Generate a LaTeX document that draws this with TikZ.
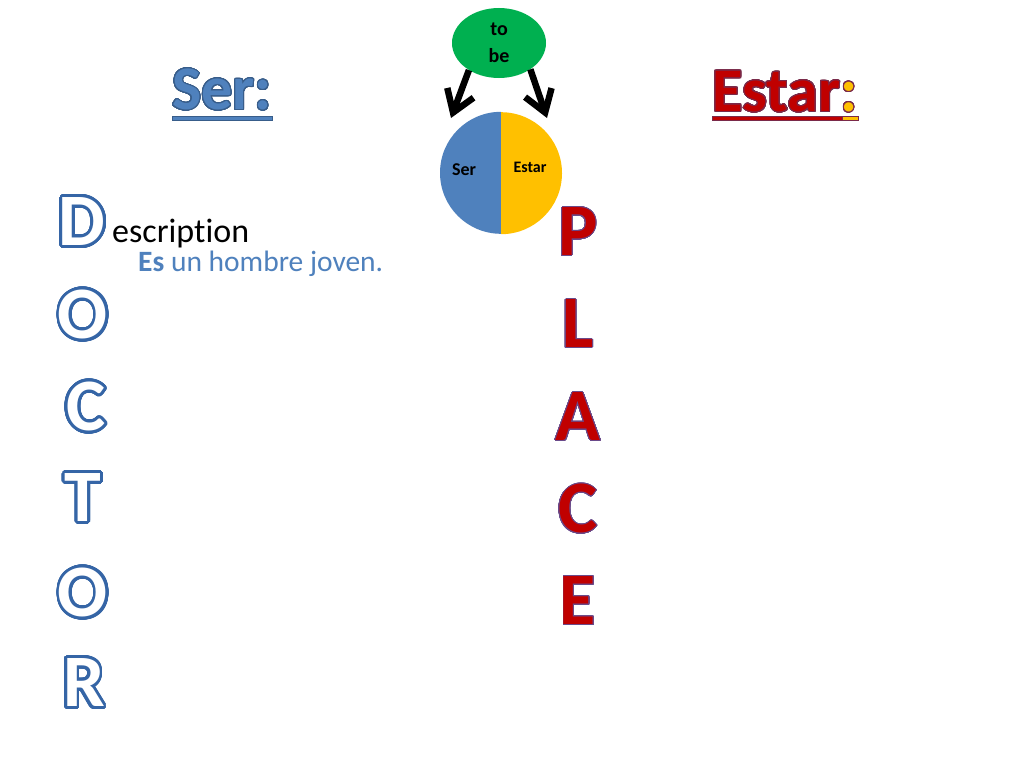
\documentclass[tikz,border=0pt]{standalone}
\usepackage{fontspec}
\setmainfont{Carlito}[Ligatures=NoCommon]
\usepackage{contour}
\usetikzlibrary{arrows.meta,shapes.geometric}
\definecolor{serblue}{HTML}{4F81BD}
\definecolor{serline}{HTML}{385D8A}
\definecolor{gold}{HTML}{FFC000}
\definecolor{estred}{HTML}{C00000}
\definecolor{estline}{HTML}{7A2A4A}
\definecolor{tobegreen}{HTML}{00B050}
\definecolor{hollow}{HTML}{3565A6}
\definecolor{placeline}{HTML}{6A4A8A}
\contournumber{40}
\newcommand{\hol}[1]{{\contourlength{2.8pt}\contour{hollow}{\textcolor{white}{#1}}}}
\newcommand{\plc}[1]{{\contourlength{0.7pt}\contour{placeline}{\textcolor{estred}{#1}}}}
\begin{document}
\begin{tikzpicture}[x=1pt,y=-1pt,
  bigtitle/.style={inner sep=0pt,font=\bfseries\fontsize{62}{62}\selectfont},
  doctorletter/.style={inner sep=0pt,font=\bfseries\fontsize{74}{74}\selectfont},
  placeletter/.style={inner sep=0pt,font=\bfseries\fontsize{74}{74}\selectfont},
  arrowline/.style={line width=6.5pt,-{Straight Barb[length=21pt,width=28pt,line width=6.5pt]}},
  pielabel/.style={inner sep=0pt,font=\bfseries\fontsize{18}{18}\selectfont}]
\useasboundingbox[fill=white] (0,0) rectangle (1024,768);

% to be
\node[ellipse,fill=tobegreen,minimum width=94pt,minimum height=70pt,inner sep=0pt,
  align=center,font=\bfseries\fontsize{20}{27}\selectfont] (tobe) at (499,43) {to\\be};

% pie
\node[circle,minimum size=122pt,inner sep=0pt] (pie) at (501,173) {};
\fill[serblue] (pie.north) arc[start angle=90,end angle=270,radius=61pt] -- cycle;
\fill[gold] (pie.south) arc[start angle=-90,end angle=90,radius=61pt] -- cycle;
\node[pielabel] (piesr) at (464,170) {Ser};
\node[pielabel,font=\bfseries\fontsize{16}{16}\selectfont] (piees) at (530,167) {Estar};

% arrows
\coordinate (lefttip) at (451,118);
\coordinate (righttip) at (547,118);
\draw[arrowline] (tobe.222) -- (lefttip);
\draw[arrowline] (tobe.-40) -- (righttip);

% Ser:
\node[bigtitle] (sertitle) at (222,90) {\contourlength{1pt}\contour{serline}{\textcolor{serblue}{Ser:}}};
\node[draw=serline,fill=serblue,line width=0.8pt,minimum width=100pt,minimum height=4pt,inner sep=0pt] (serul) at (222,118) {};

% Estar:
\node[bigtitle] (esttitle) at (785,92) {\contourlength{1pt}\contour{estline}{\textcolor{estred}{Estar}}\contour{estline}{\textcolor{gold}{:}}};
\node[draw=estline,fill=estred,line width=0.8pt,minimum width=146pt,minimum height=4pt,inner sep=0pt] (estul) at (785,118) {};
\fill[gold,draw=estline,line width=0.8pt] (842,116) rectangle (858,120);

% DOCTOR
\node[doctorletter] (d1) at (82,223) {\hol{D}};
\node[doctorletter] (o1) at (83,316) {\hol{O}};
\node[doctorletter] (c1) at (86,408) {\hol{C}};
\node[doctorletter] (t1) at (83,499) {\hol{T}};
\node[doctorletter] (o2) at (83,594) {\hol{O}};
\node[doctorletter] (r1) at (84,684) {\hol{R}};

\node[anchor=base west,inner sep=0pt,font=\fontsize{34}{34}\selectfont] (desc) at (112,242) {escription};
\node[anchor=base west,inner sep=0pt,text=serblue,font=\fontsize{29.5}{29.5}\selectfont] (ex) at (138,271) {\textbf{Es} un hombre joven.};

% PLACE
\node[placeletter] (p1) at (578,232) {\plc{P}};
\node[placeletter] (l1) at (578,324) {\plc{L}};
\node[placeletter] (a1) at (578,417) {\plc{A}};
\node[placeletter] (c2) at (578,509) {\plc{C}};
\node[placeletter] (e1) at (578,601) {\plc{E}};
\end{tikzpicture}
\end{document}
